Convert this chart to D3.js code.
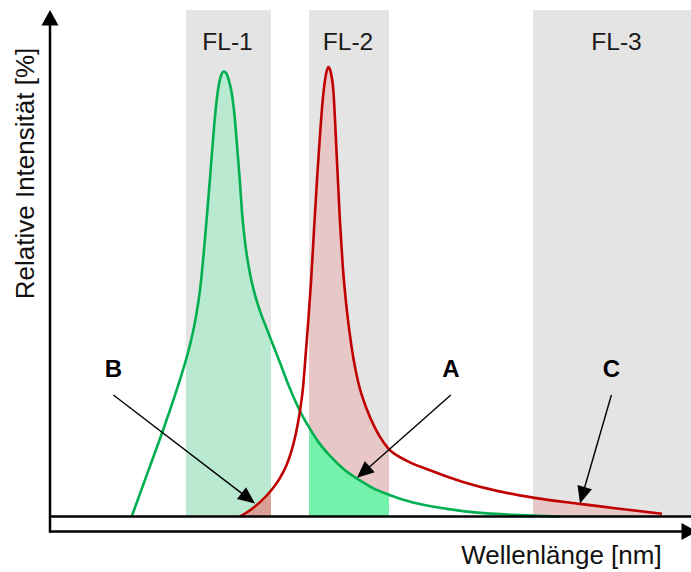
<!DOCTYPE html>
<html>
<head>
<meta charset="utf-8">
<script src="https://cdn.jsdelivr.net/npm/d3@7"></script>
<style>
  body { margin: 0; background: #fff; }
  svg { display: block; }
  text { font-family: "Liberation Sans", Arial, Helvetica, sans-serif; }
</style>
</head>
<body>
<svg id="chart" width="691" height="572"></svg>
<script>
// Emission spectrum of the green dye: wavelength [nm], relative intensity [%]
const greenWavelength = [490.85, 500, 506.5, 512.5, 516.5, 520, 522.5, 525, 527, 528.5, 530, 531.5, 533, 534.5, 535.75, 536.75,
  538, 539.5, 541, 542.5, 543.5, 545, 546, 547.5, 550, 552.5, 555, 558, 561.5, 565, 570, 575.5, 580, 585, 590, 597.5, 604, 611.5,
  619, 631.5, 648.5, 665, 681.5, 691.5, 705];
const greenIntensity = [0, 11.2, 19.2, 27.0, 32.6, 38.2, 43.3, 50.4, 59.3, 67.1, 75.3, 83.8, 91.3, 96.2, 98.4, 99.0,
  98.7, 96.9, 93.8, 88.2, 82.6, 74.2, 67.7, 61.1, 54.0, 49.3, 45.7, 42.2, 38.2, 34.2, 28.4, 23.0, 19.5, 16.1, 13.5, 10.3, 8.3, 6.3,
  4.9, 3.1, 1.7, 0.8, 0.4, 0.2, 0];

// Emission spectrum of the red dye
const redWavelength = [545, 550, 555, 560, 565, 568.5, 571, 573, 575, 576.5, 578, 579.25, 580.5, 582, 583.5, 585, 586.5, 588, 589.15,
  590.25, 591.65, 593.35, 595, 596.25, 597.5, 599.5, 601.65, 604, 608.35, 612.5, 615, 619, 627.5, 640, 656.5, 673.5, 691.5, 715,
  731.5, 756];
const redIntensity = [0, 1.4, 3.2, 5.5, 8.6, 11.7, 15.0, 18.6, 23.5, 28.6, 37.0, 44.2, 52.2, 63.7, 74.9, 84.9, 93.3, 98.4, 100,
  99.1, 94.9, 80.4, 65.5, 56.6, 49.9, 41.9, 35.3, 30.1, 23.9, 19.7, 17.7, 15.2, 12.6, 10.3, 7.7, 5.7, 4.2, 2.8,
  1.9, 0.6];

// Detector filter windows [nm]
const filterNames = ["FL-1", "FL-2", "FL-3"];
const filterStart = [518, 579.5, 691.5];
const filterEnd = [560.5, 619.5, 776];

// Spillover annotations: label, arrow target (wavelength, intensity), label wavelength
const noteLabels = ["B", "A", "C"];
const noteWavelength = [552.5, 603.5, 715];
const noteIntensity = [2.9, 8.6, 2.9];
const noteLabelWavelength = [481.7, 650.4, 730.7];

// ---- drawing ----
const svg = d3.select("#chart");
const x = d3.scaleLinear().domain([450, 770]).range([50, 690]);
const y = d3.scaleLinear().domain([0, 100]).range([516.5, 67]);

const plotTop = 10;
const axisY = 531.5;
const axisX = 50;

const GREEN = "#00b050", RED = "#c00000";
const BAND_GREY = "#e4e4e4";
// per-filter fill colours for the area under each spectrum, and draw order
const bandStyle = [
  { green: "#b9e9d1", red: "#d9a195", order: ["green", "red"] },
  { green: "#74f1aa", red: "#e8c7c7", order: ["red", "green"] },
  { green: "#74f1aa", red: "#e8c7c7", order: ["red", "green"] }
];

const greenData = greenWavelength.map((w, i) => ({ w, v: greenIntensity[i] }));
const redData = redWavelength.map((w, i) => ({ w, v: redIntensity[i] }));
const series = { green: greenData, red: redData };

const curve = d3.curveMonotoneX;
const line = d3.line().x(d => x(d.w)).y(d => y(d.v)).curve(curve);
const area = d3.area().x(d => x(d.w)).y0(y(0)).y1(d => y(d.v)).curve(curve);

const defs = svg.append("defs");

// filter bands
const bands = filterNames.map((name, i) => ({ name, start: filterStart[i], end: filterEnd[i], style: bandStyle[i], i }));

svg.append("g").selectAll("rect").data(bands).join("rect")
  .attr("x", d => x(d.start))
  .attr("y", plotTop)
  .attr("width", d => x(d.end) - x(d.start))
  .attr("height", y(0) - plotTop)
  .attr("fill", BAND_GREY);

bands.forEach(b => {
  defs.append("clipPath").attr("id", "clip-" + b.i)
    .append("rect")
    .attr("x", x(b.start)).attr("y", 0)
    .attr("width", x(b.end) - x(b.start)).attr("height", y(0));
});

const fills = svg.append("g");
bands.forEach(b => {
  b.style.order.forEach(key => {
    fills.append("path")
      .datum(series[key])
      .attr("d", area)
      .attr("fill", b.style[key])
      .attr("clip-path", `url(#clip-${b.i})`);
  });
});

// band titles
svg.append("g").selectAll("text").data(bands).join("text")
  .attr("x", d => (x(d.start) + x(d.end)) / 2 - 1)
  .attr("y", 49.5)
  .attr("text-anchor", "middle")
  .attr("font-size", 24.6)
  .attr("fill", "#1a1a1a")
  .text(d => d.name);

// spectra
svg.append("path").datum(greenData).attr("d", line)
  .attr("fill", "none").attr("stroke", GREEN).attr("stroke-width", 2.6).attr("stroke-linejoin", "round");
svg.append("path").datum(redData).attr("d", line)
  .attr("fill", "none").attr("stroke", RED).attr("stroke-width", 2.6).attr("stroke-linejoin", "round");

// axes
const axes = svg.append("g").attr("stroke", "#000").attr("stroke-width", 2.5);
axes.append("line").attr("x1", axisX).attr("x2", 691).attr("y1", y(0)).attr("y2", y(0));
axes.append("line").attr("x1", axisX).attr("x2", 683).attr("y1", axisY).attr("y2", axisY);
axes.append("line").attr("x1", axisX).attr("x2", axisX).attr("y1", axisY + 1.2).attr("y2", plotTop + 14);
svg.append("path")
  .attr("d", `M${axisX},${plotTop} L${axisX + 8.5},${plotTop + 15.5} L${axisX - 8.5},${plotTop + 15.5} Z`)
  .attr("fill", "#000");
svg.append("path")
  .attr("d", `M697,${axisY} L681.5,${axisY - 8.5} L681.5,${axisY + 8.5} Z`)
  .attr("fill", "#000");

// axis titles
svg.append("text")
  .attr("transform", `translate(33.5,173.5) rotate(-90)`)
  .attr("text-anchor", "middle")
  .attr("font-size", 26)
  .attr("fill", "#111")
  .text("Relative Intensität [%]");
svg.append("text")
  .attr("x", 561.5).attr("y", 564)
  .attr("text-anchor", "middle")
  .attr("font-size", 26)
  .attr("fill", "#111")
  .text("Wellenlänge [nm]");

// annotations
const notes = noteLabels.map((label, i) => ({
  label, tx: x(noteWavelength[i]), ty: y(noteIntensity[i]), lx: x(noteLabelWavelength[i])
}));
const labelBaseline = 377.3, tailY = 395;
const ann = svg.append("g");
notes.forEach(n => {
  const dx = n.tx - n.lx, dy = n.ty - tailY;
  const len = Math.hypot(dx, dy);
  const ux = dx / len, uy = dy / len;
  const headLen = 17, headHalf = 7.5;
  const bx = n.tx - ux * headLen, by = n.ty - uy * headLen;
  ann.append("line")
    .attr("x1", n.lx).attr("y1", tailY)
    .attr("x2", bx + ux * 2).attr("y2", by + uy * 2)
    .attr("stroke", "#000").attr("stroke-width", 1.4);
  ann.append("path")
    .attr("d", `M${n.tx},${n.ty} L${bx - uy * headHalf},${by + ux * headHalf} L${bx + uy * headHalf},${by - ux * headHalf} Z`)
    .attr("fill", "#000");
  ann.append("text")
    .attr("x", n.lx).attr("y", labelBaseline)
    .attr("text-anchor", "middle")
    .attr("font-size", 24)
    .attr("font-weight", "bold")
    .attr("fill", "#000")
    .text(n.label);
});
</script>
</body>
</html>
